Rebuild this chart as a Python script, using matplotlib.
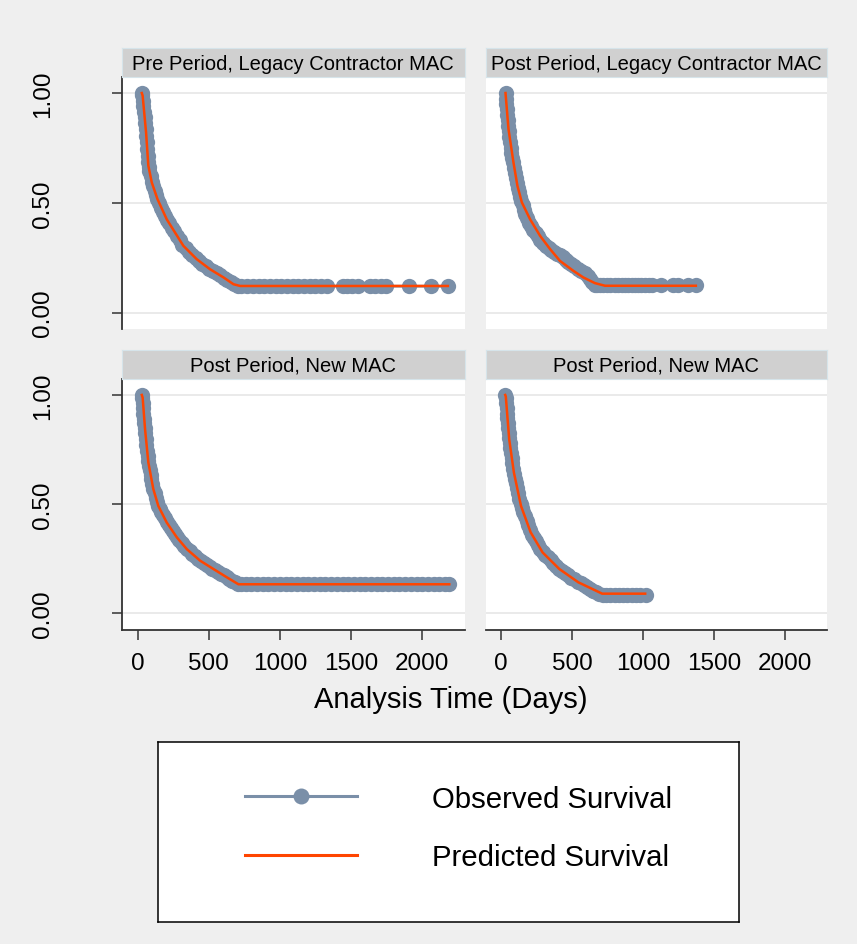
"""Observed vs. predicted survival by period and MAC type (2x2 panel grid)."""

import matplotlib

matplotlib.use("Agg")
import matplotlib.pyplot as plt
from matplotlib.lines import Line2D

plt.rcParams["font.family"] = ["Liberation Sans", "DejaVu Sans"]

# --- data ---------------------------------------------------------------
PANEL_TITLES = [
    "Pre Period, Legacy Contractor MAC",
    "Post Period, Legacy Contractor MAC",
    "Post Period, New MAC",
    "Post Period, New MAC",
]

# (analysis time in days, survival) pairs
OBS_PRE_LEGACY = [
    (30, 1.000), (34, 0.990), (38, 0.965), (42, 0.940), (46, 0.915), (50, 0.890),
    (54, 0.862), (58, 0.835), (62, 0.805), (65, 0.775), (68, 0.745), (71, 0.715),
    (74, 0.688), (78, 0.665), (84, 0.645), (92, 0.620), (100, 0.595), (110, 0.575),
    (120, 0.553), (130, 0.536), (140, 0.515), (152, 0.498), (166, 0.478), (180, 0.458),
    (194, 0.441), (208, 0.422), (222, 0.407), (240, 0.386), (258, 0.370), (276, 0.350),
    (296, 0.332), (316, 0.309), (338, 0.295), (360, 0.278), (384, 0.264), (408, 0.249),
    (432, 0.236), (456, 0.222), (480, 0.213), (505, 0.199), (530, 0.190), (555, 0.178),
    (580, 0.170), (605, 0.158), (630, 0.149), (655, 0.137), (680, 0.128), (705, 0.123),
    (730, 0.120), (770, 0.120), (810, 0.120), (850, 0.120), (890, 0.120), (930, 0.120),
    (970, 0.120), (1010, 0.120), (1050, 0.120), (1090, 0.120), (1130, 0.120), (1170, 0.120),
    (1210, 0.120), (1250, 0.120), (1290, 0.120), (1330, 0.120), (1440, 0.120), (1475, 0.120),
    (1510, 0.120), (1550, 0.120), (1630, 0.120), (1670, 0.120), (1710, 0.120), (1745, 0.120),
    (1910, 0.120), (2060, 0.120), (2180, 0.120),
]
PRED_PRE_LEGACY = [
    (30, 1.000), (36, 0.988), (60, 0.821), (76, 0.669), (100, 0.593), (140, 0.517),
    (205, 0.425), (322, 0.304), (416, 0.243), (510, 0.197), (604, 0.160), (674, 0.129),
    (721, 0.121), (2180, 0.121),
]

OBS_POST_LEGACY = [
    (32, 1.000), (35, 0.975), (38, 0.950), (41, 0.925), (44, 0.900), (47, 0.875),
    (50, 0.850), (54, 0.825), (58, 0.800), (63, 0.775), (68, 0.750), (73, 0.728),
    (78, 0.705), (84, 0.685), (90, 0.660), (97, 0.635), (104, 0.612), (111, 0.590),
    (118, 0.568), (126, 0.548), (134, 0.528), (143, 0.508), (152, 0.488), (160, 0.468),
    (172, 0.450), (184, 0.430), (198, 0.410), (212, 0.394), (228, 0.377), (244, 0.362),
    (260, 0.347), (278, 0.332), (296, 0.318), (315, 0.304), (335, 0.292), (355, 0.283),
    (375, 0.276), (395, 0.268), (415, 0.262), (435, 0.254), (455, 0.240), (475, 0.229),
    (495, 0.222), (515, 0.214), (540, 0.200), (565, 0.190), (590, 0.181), (610, 0.168),
    (625, 0.152), (640, 0.137), (660, 0.127), (674, 0.125), (700, 0.125), (721, 0.125),
    (745, 0.125), (768, 0.125), (800, 0.125), (826, 0.125), (850, 0.125), (873, 0.125),
    (897, 0.125), (920, 0.125), (945, 0.125), (967, 0.125), (990, 0.125), (1014, 0.125),
    (1040, 0.125), (1061, 0.125), (1124, 0.125), (1213, 0.125), (1248, 0.125), (1318, 0.125),
    (1373, 0.125),
]
PRED_POST_LEGACY = [
    (32, 1.000), (53, 0.836), (88, 0.684), (116, 0.577), (147, 0.502), (205, 0.425),
    (276, 0.349), (346, 0.289), (416, 0.235), (510, 0.190), (580, 0.160), (662, 0.134),
    (733, 0.122), (1373, 0.122),
]

OBS_POST_NEW_A = [
    (30, 1.000), (33, 0.985), (36, 0.965), (39, 0.940), (42, 0.915), (45, 0.890),
    (48, 0.870), (51, 0.850), (55, 0.825), (59, 0.797), (63, 0.770), (67, 0.745),
    (71, 0.720), (75, 0.697), (80, 0.675), (86, 0.655), (92, 0.634), (98, 0.614),
    (105, 0.592), (112, 0.570), (120, 0.550), (128, 0.530), (137, 0.511), (146, 0.493),
    (156, 0.478), (166, 0.465), (178, 0.450), (190, 0.435), (204, 0.418), (218, 0.404),
    (232, 0.391), (246, 0.377), (260, 0.363), (276, 0.349), (292, 0.336), (310, 0.322),
    (328, 0.308), (346, 0.295), (366, 0.284), (386, 0.272), (406, 0.261), (426, 0.250),
    (446, 0.240), (466, 0.232), (486, 0.222), (506, 0.214), (526, 0.205), (546, 0.198),
    (566, 0.190), (586, 0.182), (606, 0.174), (626, 0.165), (646, 0.157), (666, 0.150),
    (686, 0.142), (706, 0.135), (726, 0.133), (760, 0.133), (800, 0.133), (840, 0.133),
    (880, 0.133), (920, 0.133), (960, 0.133), (1000, 0.133), (1040, 0.133), (1080, 0.133),
    (1120, 0.133), (1160, 0.133), (1200, 0.133), (1240, 0.133), (1280, 0.133), (1320, 0.133),
    (1360, 0.133), (1400, 0.133), (1440, 0.133), (1480, 0.133), (1520, 0.133), (1560, 0.133),
    (1600, 0.133), (1640, 0.133), (1680, 0.133), (1720, 0.133), (1760, 0.133), (1800, 0.133),
    (1840, 0.133), (1880, 0.133), (1920, 0.133), (1960, 0.133), (2000, 0.133), (2040, 0.133),
    (2080, 0.133), (2120, 0.133), (2160, 0.133), (2190, 0.133),
]
PRED_POST_NEW_A = [
    (30, 1.000), (36, 0.988), (53, 0.843), (76, 0.691), (111, 0.569), (146, 0.492),
    (205, 0.416), (276, 0.348), (346, 0.294), (440, 0.241), (533, 0.203), (627, 0.165),
    (709, 0.133), (2190, 0.133),
]

OBS_POST_NEW_B = [
    (30, 1.000), (33, 0.985), (36, 0.965), (39, 0.940), (42, 0.915), (45, 0.893),
    (48, 0.870), (51, 0.850), (54, 0.828), (57, 0.805), (61, 0.780), (66, 0.757),
    (71, 0.733), (76, 0.712), (81, 0.688), (87, 0.662), (93, 0.640), (100, 0.617),
    (107, 0.596), (114, 0.574), (122, 0.550), (130, 0.525), (139, 0.500), (148, 0.480),
    (158, 0.462), (168, 0.444), (180, 0.424), (192, 0.403), (205, 0.380), (218, 0.360),
    (232, 0.345), (246, 0.330), (262, 0.313), (278, 0.296), (295, 0.279), (312, 0.267),
    (330, 0.256), (350, 0.243), (370, 0.230), (390, 0.217), (410, 0.204), (430, 0.194),
    (452, 0.184), (474, 0.174), (496, 0.164), (518, 0.155), (540, 0.145), (562, 0.137),
    (584, 0.128), (606, 0.120), (628, 0.112), (650, 0.104), (672, 0.097), (694, 0.090),
    (716, 0.085), (740, 0.083), (770, 0.083), (800, 0.083), (830, 0.083), (860, 0.083),
    (890, 0.083), (920, 0.083), (950, 0.083), (980, 0.083), (1020, 0.083),
]
PRED_POST_NEW_B = [
    (30, 1.000), (34, 0.993), (58, 0.797), (91, 0.645), (141, 0.492), (209, 0.371),
    (293, 0.279), (411, 0.203), (545, 0.142), (713, 0.090), (1016, 0.090),
]

X_TICKS = [0, 500, 1000, 1500, 2000]
Y_TICKS = [0.0, 0.5, 1.0]
Y_TICK_LABELS = ["0.00", "0.50", "1.00"]
LEGEND_LABELS = ["Observed Survival", "Predicted Survival"]
X_LABEL = "Analysis Time (Days)"

# --- style / layout -------------------------------------------------------
W, H = 857, 945
BG = "#efefef"
STRIP = "#d0d0d0"
GRID = "#e6e6e6"
AXIS = "#333333"
OBS_COLOR = "#7a8fa8"
PRED_COLOR = "#ff4500"

# panel boxes in pixels: left, top, right, bottom
PANEL_BOXES = [
    (122, 78, 464.5, 330),
    (485.5, 78, 827, 330),
    (122, 380, 464.5, 630.7),
    (485.5, 380, 827, 630.7),
]
STRIP_H = 29
LEGEND_BOX = (158.4, 742.7, 738.6, 923.3)


def px_rect(left, top, right, bottom):
    return [left / W, 1 - bottom / H, (right - left) / W, (bottom - top) / H]


def draw_panel(fig, idx, title, obs, pred):
    left, top, right, bottom = PANEL_BOXES[idx]
    is_left = idx % 2 == 0
    is_bottom = idx >= 2

    ax = fig.add_axes(px_rect(left, top, right, bottom))
    ax.set_facecolor("white")
    for y in Y_TICKS:
        ax.axhline(y, color=GRID, lw=1.2, zorder=0)

    ot, os_ = zip(*obs)
    pt, ps = zip(*pred)
    ax.plot(ot, os_, color=OBS_COLOR, lw=2, marker="o", ms=11, mew=0, zorder=2)
    ax.plot(pt, ps, color=PRED_COLOR, lw=1.8, zorder=3)

    ax.set_xlim(-109, 2297)
    ax.set_ylim(-0.075, 1.073)

    for side in ("top", "right"):
        ax.spines[side].set_visible(False)
    ax.spines["left"].set_visible(is_left)
    ax.spines["bottom"].set_visible(is_bottom)
    for side in ("left", "bottom"):
        ax.spines[side].set_color(AXIS)
        ax.spines[side].set_linewidth(1.3)

    if is_left:
        ax.set_yticks(Y_TICKS)
        ax.set_yticklabels(Y_TICK_LABELS, rotation=90, va="center")
        ax.tick_params(axis="y", length=7.2, width=1.1, color=AXIS,
                       pad=42, labelsize=17.5)
    else:
        ax.set_yticks([])
    if is_bottom:
        ax.set_xticks(X_TICKS)
        ax.tick_params(axis="x", length=7.2, width=1.1, color=AXIS,
                       pad=9, labelsize=17.5)
    else:
        ax.set_xticks([])

    strip = fig.add_axes(px_rect(left, top - STRIP_H, right, top))
    strip.set_facecolor(STRIP)
    strip.set_xticks([])
    strip.set_yticks([])
    for sp in strip.spines.values():
        sp.set_color("#d6e4ea")
        sp.set_linewidth(0.8)
    strip.text(0.5, 0.47, title, ha="center", va="center", fontsize=14.5,
               transform=strip.transAxes)
    return ax


def main():
    fig = plt.figure(figsize=(W / 100, H / 100), dpi=100, facecolor=BG)

    panels = [
        (OBS_PRE_LEGACY, PRED_PRE_LEGACY),
        (OBS_POST_LEGACY, PRED_POST_LEGACY),
        (OBS_POST_NEW_A, PRED_POST_NEW_A),
        (OBS_POST_NEW_B, PRED_POST_NEW_B),
    ]
    for i, (title, (obs, pred)) in enumerate(zip(PANEL_TITLES, panels)):
        draw_panel(fig, i, title, obs, pred)

    fig.text(451 / W, 1 - 700 / H, X_LABEL, ha="center", va="center", fontsize=21)

    # legend box
    lax = fig.add_axes(px_rect(*LEGEND_BOX))
    lax.set_facecolor("white")
    lax.set_xticks([])
    lax.set_yticks([])
    for sp in lax.spines.values():
        sp.set_color("black")
        sp.set_linewidth(1.1)

    handles = [
        Line2D([], [], color=OBS_COLOR, lw=2.2, marker="o", ms=11.5, mew=0),
        Line2D([], [], color=PRED_COLOR, lw=2.2),
    ]
    fig.legend(handles, LEGEND_LABELS, loc="center left",
               bbox_to_anchor=(245 / W, 1 - 829 / H), frameon=False,
               fontsize=21.2, handlelength=3.8, handletextpad=2.55,
               labelspacing=1.04, borderpad=0, borderaxespad=0)

    fig.savefig("out.png", dpi=100, facecolor=BG)
    plt.close(fig)


if __name__ == "__main__":
    main()
